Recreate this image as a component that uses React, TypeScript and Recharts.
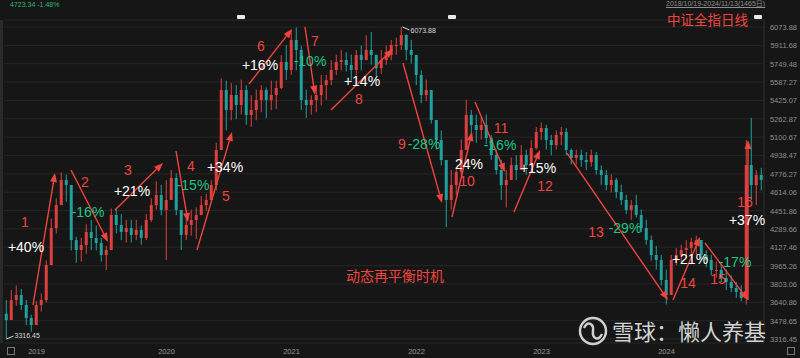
import React from 'react';
import { ComposedChart, Bar, XAxis, YAxis, CartesianGrid, ReferenceLine, ReferenceDot } from 'recharts';

// biweekly candles, 2018/10/19 - 2024/11/13
const closes = [
  3484, 3661, 3705, 3617, 3502, 3440, 3617, 3661, 3970, 4297,
  4500, 4722, 4677, 4191, 4103, 4147, 4262, 4209, 4165, 4059,
  4103, 4412, 4324, 4262, 4297, 4236, 4280, 4209, 4368, 4500,
  4589, 4457, 4545, 4740, 4457, 4236, 4324, 4368, 4412, 4500,
  4545, 4677, 4987, 5517, 5340, 5473, 5385, 5517, 5296, 5340,
  5429, 5517, 5429, 5473, 5535, 5765, 5694, 5959, 5871, 5429,
  5385, 5429, 5473, 5561, 5605, 5694, 5765, 5782, 5738, 5694,
  5827, 5782, 5871, 5827, 5711, 5782, 5827, 5915, 5915, 6003,
  5871, 5827, 5650, 5473, 5517, 5252, 5075, 4898, 4545, 4677,
  4792, 4987, 5296, 5208, 5164, 5208, 5093, 4943, 4810, 4677,
  4722, 4854, 4810, 4943, 4854, 5005, 5146, 5181, 5075, 5031,
  5120, 5146, 4987, 4916, 4943, 4898, 4880, 4943, 4810, 4766,
  4677, 4722, 4615, 4545, 4457, 4500, 4412, 4297, 4191, 4059,
  4015, 3838, 3705, 4015, 4059, 4103, 4120, 4174, 4191, 4059,
  4015, 3926, 3926, 3855, 3820, 3767, 3732, 3679, 4854, 4677,
  4766, 4723,
];
const highs = [
  3661, 3749, 3790, 3760, 3661, 3530, 3650, 3720, 4010, 4380,
  4560, 4790, 4770, 4560, 4220, 4210, 4330, 4370, 4320, 4210,
  4140, 4470, 4470, 4420, 4370, 4370, 4370, 4320, 4420, 4560,
  4710, 4680, 4720, 4810, 4780, 4420, 4420, 4460, 4480, 4580,
  4600, 4720, 5050, 5620, 5600, 5580, 5560, 5610, 5560, 5470,
  5520, 5560, 5540, 5600, 5600, 5825, 5915, 6050, 6070, 5910,
  5520, 5470, 5560, 5650, 5650, 5780, 5830, 5870, 5850, 5830,
  5870, 5910, 6000, 6030, 5830, 5870, 5910, 5960, 5980, 6074,
  6010, 5960, 5780, 5690, 5610, 5430, 5250, 5160, 4900, 4810,
  4830, 5080, 5430, 5340, 5300, 5280, 5300, 5120, 4990, 4900,
  4810, 4920, 4940, 5030, 4990, 5075, 5190, 5230, 5210, 5120,
  5160, 5190, 5180, 5000, 4990, 4990, 4970, 4990, 4970, 4850,
  4810, 4770, 4740, 4680, 4590, 4545, 4590, 4460, 4370, 4230,
  4140, 4060, 3930, 4060, 4120, 4150, 4190, 4210, 4230, 4150,
  4100, 4060, 4000, 3970, 3930, 3880, 3820, 3790, 5075, 5270,
  4810, 4830,
];
const lows = [
  3316, 3502, 3610, 3573, 3440, 3380, 3450, 3560, 3640, 3980,
  4250, 4520, 4530, 4100, 3990, 4000, 4070, 4100, 4100, 4000,
  3926, 4140, 4250, 4190, 4170, 4170, 4190, 4150, 4190, 4350,
  4460, 4410, 4015, 4550, 4410, 4103, 4190, 4230, 4200, 4430,
  4450, 4540, 4630, 4990, 5160, 5250, 5260, 5300, 5210, 5190,
  5250, 5320, 5270, 5340, 5350, 5525, 5605, 5650, 5690, 5340,
  5270, 5300, 5320, 5380, 5430, 5560, 5650, 5690, 5680, 5600,
  5650, 5690, 5780, 5740, 5640, 5660, 5740, 5780, 5830, 5870,
  5780, 5750, 5560, 5400, 5420, 5220, 4990, 4850, 4306, 4460,
  4590, 4760, 4990, 5120, 5050, 5080, 5040, 4900, 4770, 4545,
  4480, 4720, 4720, 4810, 4770, 4850, 4990, 5075, 4990, 4940,
  4990, 5030, 4940, 4860, 4860, 4840, 4810, 4840, 4770, 4680,
  4630, 4610, 4560, 4500, 4420, 4370, 4390, 4260, 4150, 4010,
  3930, 3790, 3620, 3750, 3970, 4000, 4030, 4050, 4060, 4010,
  3950, 3880, 3860, 3820, 3750, 3730, 3680, 3650, 3620, 4545,
  4500, 4630,
];
const firstOpen = 3540;

const yearTicks = [6, 32, 57, 82, 107, 132];
const yearLabels = ['2019', '2020', '2021', '2022', '2023', '2024'];
const priceTicks = [
  3316.45, 3478.65, 3640.86, 3803.06, 3965.26, 4127.46, 4289.66, 4451.86, 4614.06,
  4776.27, 4938.47, 5100.67, 5262.87, 5425.07, 5587.27, 5749.48, 5911.68, 6073.88,
];

// annotation arrows: [x1, y1, x2, y2] in (candle index, price)
const arrows = [
  [5.3, 3617, 9.7, 4783],
  [12.9, 4810, 20.3, 4174],
  [21.7, 4457, 31.3, 4872],
  [33.9, 4978, 36.3, 4350],
  [38.1, 4103, 45.1, 5146],
  [48.5, 5570, 57.1, 6056],
  [59.7, 6074, 61.7, 5473],
  [64.9, 5340, 77.3, 5879],
  [79.3, 5756, 87.1, 4518],
  [89.1, 4395, 93.1, 5146],
  [93.7, 5411, 99.7, 4792],
  [101.5, 4439, 106.7, 4987],
  [112.1, 4960, 132.3, 3661],
  [133.3, 3661, 138.7, 4218],
  [139.7, 4165, 148.3, 3661],
  [148.3, 3661, 148.3, 5075],
];
const stepLabels = ['1', '2', '3', '4', '5', '6', '7', '8', '9', '10', '11', '12', '13', '14', '15', '16'];
const stepPos = [
  [3.7, 4350], [15.7, 4704], [24.3, 4810], [36.9, 4845], [43.9, 4580], [50.9, 5906],
  [61.7, 5950], [70.5, 5437], [79.1, 5040], [92.1, 4712], [98.9, 5182], [107.7, 4669],
  [117.9, 4262], [136.3, 3811], [142.3, 3846], [147.7, 4527],
];
const moveLabels = ['+40%', '-16%', '+21%', '-15%', '+34%', '+16%', '-10%', '+14%', '-28%', '24%', '-16%', '+15%', '-29%', '+21%', '-17%', '+37%'];
const movePos = [
  [3.9, 4130], [16.3, 4439], [25.1, 4624], [37.3, 4678], [43.7, 4836], [50.7, 5738],
  [60.7, 5773], [71.1, 5596], [83.5, 5040], [92.5, 4863], [98.7, 5031], [106.3, 4828],
  [123.7, 4297], [136.7, 4023], [145.7, 3997], [148.1, 4368],
];

const UP = '#dc403e';
const DOWN = '#22a09d';
const RED = '#f0443f';
const GREEN = '#1fc488';

const data = closes.map((c, i) => {
  const open = i === 0 ? firstOpen : closes[i - 1];
  return {
    i,
    open,
    close: c,
    range: [Math.min(lows[i], open, c), Math.max(highs[i], open, c)],
  };
});

const Candle = (props: any) => {
  const { x, y, width, height, payload } = props;
  const [lo, hi] = payload.range;
  const top = Math.min(y, y + height);
  const h = Math.abs(height);
  const k = hi === lo ? 0 : h / (hi - lo);
  const yOf = (v: number) => top + (hi - v) * k;
  const cx = x + width / 2;
  const color = payload.close >= payload.open ? UP : DOWN;
  const bTop = yOf(Math.max(payload.open, payload.close));
  const bBot = yOf(Math.min(payload.open, payload.close));
  return (
    <g>
      <line x1={cx} x2={cx} y1={top} y2={top + h} stroke={color} strokeWidth={1} />
      <rect x={cx - 1.5} y={bTop} width={3} height={Math.max(1, bBot - bTop)} fill={color} />
    </g>
  );
};

const Arrow = (p: any) => {
  const { x1, y1, x2, y2 } = p;
  const a = Math.atan2(y2 - y1, x2 - x1);
  const L = 9;
  const W = 3.5;
  const bx = x2 - L * Math.cos(a);
  const by = y2 - L * Math.sin(a);
  const pts = `${x2},${y2} ${bx + W * Math.sin(a)},${by - W * Math.cos(a)} ${bx - W * Math.sin(a)},${by + W * Math.cos(a)}`;
  return (
    <g>
      <line x1={x1} y1={y1} x2={bx} y2={by} stroke={RED} strokeWidth={1.4} />
      <polygon points={pts} fill={RED} />
    </g>
  );
};

const textShape = (label: string, color: string, family = "'Liberation Sans', Arial, sans-serif") => (p: any) => (
  <text
    x={p.cx}
    y={p.cy}
    textAnchor="middle"
    dominantBaseline="central"
    fill={color}
    fontSize={14}
    fontFamily={family}
  >
    {label}
  </text>
);

const PriceTick = (p: any) => (
  <text x={797} y={p.y} dy={3} textAnchor="end" fill="#8e8e8e" fontSize={7.5} fontFamily="'Liberation Sans', sans-serif">
    {p.payload.value.toFixed(2)}
  </text>
);

const font = "'Noto Sans CJK SC', 'Noto Sans', sans-serif";

export default function App() {
  return (
    <div style={{ position: 'absolute', left: 0, top: 0, width: 800, height: 358, background: '#161616', overflow: 'hidden', fontFamily: font }}>
      <ComposedChart width={800} height={358} data={data} margin={{ top: 20, right: 0, bottom: 0, left: 4 }}>
        <CartesianGrid horizontal vertical={false} stroke="#262626" />
        <XAxis
          dataKey="i"
          type="number"
          domain={[-0.5, 151.5]}
          ticks={yearTicks}
          tickFormatter={(v) => yearLabels[yearTicks.indexOf(v)]}
          height={15}
          axisLine={false}
          tickLine={false}
          tick={{ fill: '#9a9a9a', fontSize: 7.5, fontFamily: "'Liberation Sans', sans-serif" }}
          dy={-2}
          interval={0}
        />
        <YAxis
          orientation="right"
          width={36}
          type="number"
          domain={[3281.1, 6135.8]}
          ticks={priceTicks}
          allowDataOverflow
          tick={<PriceTick />}
          tickLine={false}
          axisLine={{ stroke: '#2e2e2e' }}
          interval={0}
        />
        <Bar dataKey="range" barSize={5} shape={<Candle />} isAnimationActive={false} />
        {arrows.map((a, k) => (
          <ReferenceLine key={'a' + k} segment={[{ x: a[0], y: a[1] }, { x: a[2], y: a[3] }]} shape={Arrow} ifOverflow="visible" />
        ))}
        {stepPos.map((s, k) => (
          <ReferenceDot key={'s' + k} x={s[0]} y={s[1]} r={0} shape={textShape(stepLabels[k], RED)} ifOverflow="visible" />
        ))}
        {movePos.map((s, k) => (
          <ReferenceDot
            key={'m' + k}
            x={s[0]}
            y={s[1]}
            r={0}
            shape={textShape(moveLabels[k], moveLabels[k].startsWith('-') ? GREEN : '#ffffff')}
            ifOverflow="visible"
          />
        ))}
        <ReferenceDot x={77.7} y={3882} r={0} shape={textShape('动态再平衡时机', RED, font)} ifOverflow="visible" />
        <ReferenceDot
          x={79}
          y={6073.88}
          r={0}
          ifOverflow="visible"
          shape={(p: any) => (
            <g>
              <line x1={p.cx + 1} y1={p.cy} x2={p.cx + 8} y2={p.cy + 3} stroke="#dddddd" strokeWidth={1} />
              <text x={p.cx + 9} y={p.cy + 6} fill="#d8d8d8" fontSize={7} fontFamily="'Liberation Sans', sans-serif">6073.88</text>
            </g>
          )}
        />
        <ReferenceDot
          x={0}
          y={3316.45}
          r={0}
          ifOverflow="visible"
          shape={(p: any) => (
            <g>
              <line x1={p.cx} y1={p.cy} x2={p.cx + 7} y2={p.cy - 3} stroke="#dddddd" strokeWidth={1} />
              <text x={p.cx + 8} y={p.cy - 1} fill="#d8d8d8" fontSize={7} fontFamily="'Liberation Sans', sans-serif">3316.45</text>
            </g>
          )}
        />
      </ComposedChart>

      <div style={{ position: 'absolute', left: 0, top: 20, width: 3, height: 323, background: '#2a2a2a' }} />
      <div style={{ position: 'absolute', left: 10, top: 1, fontSize: 7, lineHeight: '8px', color: '#2bb67a', whiteSpace: 'nowrap', fontFamily: "'Liberation Sans', sans-serif" }}>4723.34 -1.48%</div>
      <div style={{ position: 'absolute', left: 666, top: 0, fontSize: 7, lineHeight: '8px', color: '#8e8e8e', textDecoration: 'underline', whiteSpace: 'nowrap', fontFamily: "'Liberation Sans', 'Noto Sans CJK SC', sans-serif" }}>
        2018/10/19-2024/11/13(1465日)
      </div>
      <div style={{ position: 'absolute', left: 667, top: 12, fontSize: 13.5, color: RED, whiteSpace: 'nowrap', lineHeight: '14px' }}>中证全指日线</div>
      <div style={{ position: 'absolute', left: 754, top: 15, width: 8, height: 4, borderRadius: 1, background: '#e8e8e8' }} />
      <div style={{ position: 'absolute', left: 237, top: 15, width: 8, height: 4, borderRadius: 1, background: '#e8e8e8' }} />
      <div style={{ position: 'absolute', left: 448, top: 15, width: 8, height: 4, borderRadius: 1, background: '#e8e8e8' }} />
      <div style={{ position: 'absolute', left: 7, top: 347, width: 6, height: 6, border: '1px solid #777' }} />
      <div style={{ position: 'absolute', left: 787, top: 347, width: 6, height: 6, border: '1px solid #777' }} />

      <svg style={{ position: 'absolute', left: 578, top: 316 }} width={32} height={32}>
        <circle cx={15} cy={15} r={13} fill="none" stroke="#cfcfcf" strokeWidth={2.5} />
        <path d="M6 12 C10 4, 16 8, 15 15 C14 22, 20 26, 24 18" fill="none" stroke="#cfcfcf" strokeWidth={2.5} />
      </svg>
      <div style={{ position: 'absolute', left: 612, top: 315, fontSize: 22, color: '#d2d2d2', whiteSpace: 'nowrap', lineHeight: '30px' }}>
        雪球：懒人养基
      </div>
    </div>
  );
}
